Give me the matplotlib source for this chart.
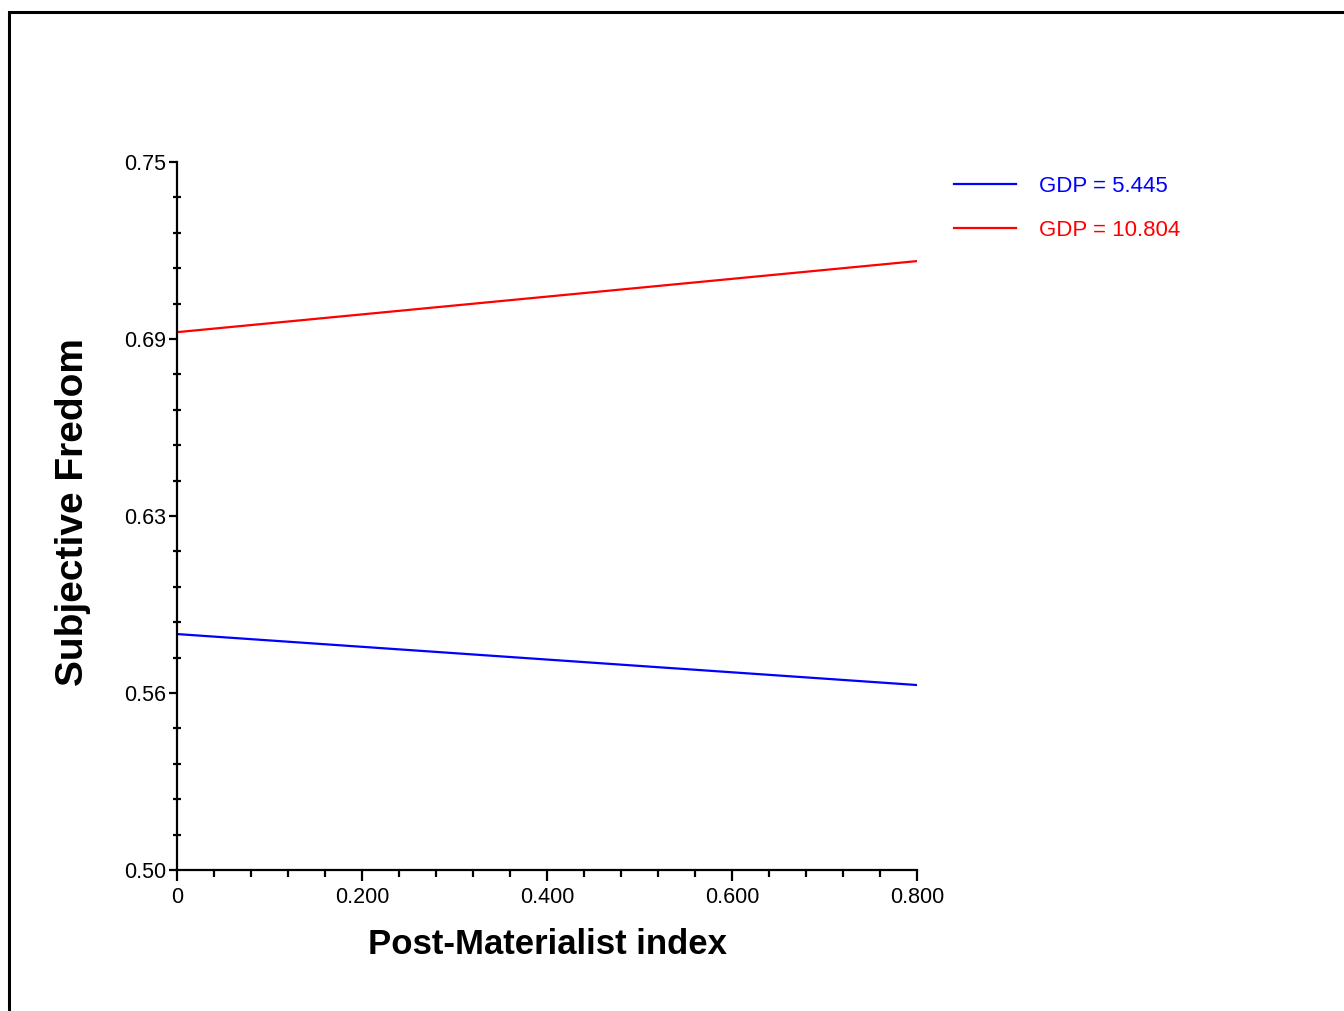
import matplotlib
matplotlib.use('Agg')
import matplotlib.pyplot as plt
from matplotlib.patches import Rectangle
from matplotlib.ticker import MultipleLocator

plt.rcParams['font.family'] = ['Liberation Sans', 'DejaVu Sans']

# data
x_vals = [0.0, 0.8]
gdp_low = [0.5833, 0.5653]
gdp_high = [0.6899, 0.7150]
series_labels = ['GDP = 5.445', 'GDP = 10.804']
series_colors = ['#0000ff', '#ff0000']

x_ticks = [0, 0.2, 0.4, 0.6, 0.8]
x_ticklabels = ['0', '0.200', '0.400', '0.600', '0.800']
y_ticks = [0.5, 0.5625, 0.625, 0.6875, 0.75]
y_ticklabels = ['0.50', '0.56', '0.63', '0.69', '0.75']


def main():
    fig = plt.figure(figsize=(13.44, 10.11), dpi=100)
    ax = fig.add_axes([0.1317, 0.1395, 0.5506, 0.7003])

    ax.plot(x_vals, gdp_low, color=series_colors[0], lw=1.6, label=series_labels[0])
    ax.plot(x_vals, gdp_high, color=series_colors[1], lw=1.6, label=series_labels[1])

    ax.set_xlim(0, 0.8)
    ax.set_ylim(0.5, 0.75)
    ax.set_xticks(x_ticks)
    ax.set_xticklabels(x_ticklabels)
    ax.set_yticks(y_ticks)
    ax.set_yticklabels(y_ticklabels)
    ax.xaxis.set_minor_locator(MultipleLocator(0.04))
    ax.yaxis.set_minor_locator(MultipleLocator(0.0125))

    for s in ['top', 'right']:
        ax.spines[s].set_visible(False)
    for s in ['left', 'bottom']:
        ax.spines[s].set_linewidth(1.6)

    ax.tick_params(axis='both', which='major', direction='out', length=6, width=1.6,
                   labelsize=15.5, pad=2)
    ax.tick_params(axis='x', which='minor', direction='out', length=5, width=1.6)
    ax.tick_params(axis='y', which='minor', direction='inout', length=6, width=1.6)
    ax.tick_params(axis='x', which='major', length=8, pad=4)

    ax.set_xlabel('Post-Materialist index', fontsize=25, fontweight='bold', labelpad=15)
    ax.set_ylabel('Subjective Fredom', fontsize=28, fontweight='bold')
    ax.yaxis.set_label_coords(-0.116, 0.505)

    ax.legend(loc='upper left', bbox_to_anchor=(0.695, 0.846),
              bbox_transform=fig.transFigure, frameon=False,
              fontsize=16, handlelength=2.8, handletextpad=1.0,
              labelspacing=1.05, labelcolor='linecolor')

    frame = Rectangle((0.0065, -0.2), 1.5, 0.988 + 0.2, transform=fig.transFigure,
                      fill=False, edgecolor='black', lw=2.2, clip_on=False)
    fig.patches.append(frame)

    fig.savefig('out.png', dpi=100)


if __name__ == '__main__':
    main()
